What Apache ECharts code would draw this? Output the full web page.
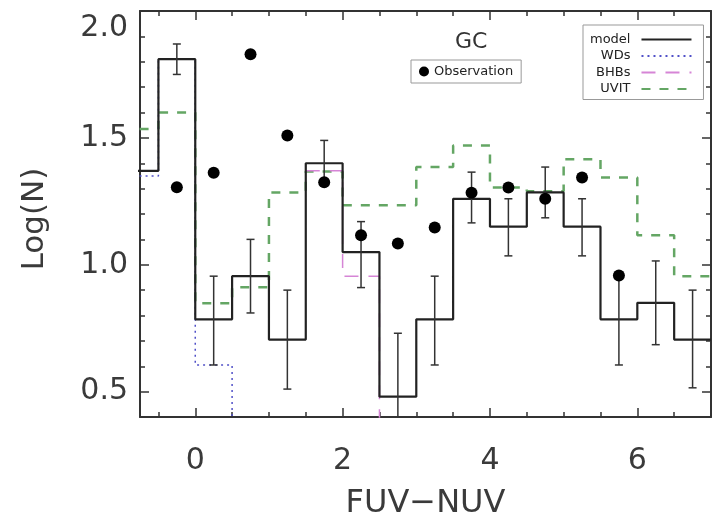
<!DOCTYPE html>
<html>
<head>
    <meta charset="utf-8" />
    <title>GC FUV-NUV</title>
    <style>
        html, body { margin: 0; padding: 0; background: #fff; }
        #main { width: 712px; height: 516px; }
    </style>
</head>
<body>
    <div id="main"></div>
</body>
<script src="https://cdn.jsdelivr.net/npm/echarts@6/dist/echarts.min.js"></script>
<script type="text/javascript">
    // bin centres (width 0.5)
    var centers = [-0.75, -0.25, 0.25, 0.75, 1.25, 1.75, 2.25, 2.75, 3.25, 3.75, 4.25, 4.75, 5.25, 5.75, 6.25, 6.75];
    var model = [1.37, 1.81, 0.785, 0.955, 0.705, 1.40, 1.05, 0.48, 0.785, 1.26, 1.15, 1.285, 1.15, 0.785, 0.85, 0.705];
    var modelLow = [null, 1.75, 0.605, 0.81, 0.51, 1.32, 0.91, 0.30, 0.605, 1.165, 1.035, 1.185, 1.035, 0.605, 0.685, 0.515];
    var modelHigh = [null, 1.87, 0.955, 1.10, 0.90, 1.49, 1.17, 0.73, 0.955, 1.365, 1.26, 1.385, 1.26, 0.96, 1.015, 0.90];
    var wds = [1.35, 1.81, 0.605, 0.0, null, null, null, null, null, null, null, null, null, null, null, null];
    var bhbs = [null, null, null, null, null, 1.37, 0.955, 0.0, null, null, null, null, null, null, null, null];
    var uvit = [1.535, 1.60, 0.848, 0.911, 1.285, 1.367, 1.234, 1.234, 1.385, 1.47, 1.304, 1.29, 1.416, 1.344, 1.116, 0.955];
    var obsX = [-0.25, 0.25, 0.75, 1.25, 1.75, 2.25, 2.75, 3.25, 3.75, 4.25, 4.75, 5.25, 5.75];
    var obsY = [1.305, 1.363, 1.83, 1.509, 1.325, 1.116, 1.084, 1.147, 1.284, 1.304, 1.26, 1.344, 0.958];

    var xMajor = [0, 2, 4, 6];
    var xMinor = [-0.5, 0.5, 1, 1.5, 2.5, 3, 3.5, 4.5, 5, 5.5, 6.5];
    var yMajor = [0.5, 1.0, 1.5, 2.0];
    var yMinor = [0.4, 0.6, 0.7, 0.8, 0.9, 1.1, 1.2, 1.3, 1.4, 1.6, 1.7, 1.8, 1.9];

    var FONT = 'DejaVu Sans';
    var INK = '#333';
    var halfBin = 0.25;

    // histogram outline: left edge of each bin, plus the final right edge
    function steps(vals) {
        var pts = centers.map(function (c, i) {
            return [c - halfBin, vals[i]];
        });
        var last = centers.length - 1;
        pts.push([centers[last] + halfBin, vals[last]]);
        return pts;
    }

    var errData = [];
    centers.forEach(function (c, i) {
        if (modelLow[i] != null) errData.push([c, modelLow[i], modelHigh[i]]);
    });

    var obsData = obsX.map(function (x, i) { return [x, obsY[i]]; });

    // frame axes: every side gets one axis for major ticks and one for minor ticks
    // (all share the same range, so any of them can carry a series)
    function axisBase(pos, len, line, ticks) {
        var horiz = pos === 'bottom' || pos === 'top';
        return {
            type: 'value',
            position: pos,
            min: horiz ? -0.75 : 0.4,
            max: horiz ? 7.0 : 2.0,
            axisLine: { show: line, onZero: false, lineStyle: { color: INK, width: 2 } },
            axisTick: { show: true, inside: true, length: len, customValues: ticks, lineStyle: { color: INK, width: 1.5 } },
            axisLabel: { show: true, customValues: ticks, formatter: function () { return ''; } },
            splitLine: { show: false }
        };
    }

    var xBottom = axisBase('bottom', 9, true, xMajor);
    xBottom.name = 'FUV\u2212NUV';
    xBottom.nameLocation = 'middle';
    xBottom.nameGap = 71;
    xBottom.nameTextStyle = { fontFamily: FONT, fontSize: 32, color: '#3a3a3a' };
    xBottom.axisLabel = { show: true, customValues: xMajor, margin: 29, fontFamily: FONT, fontSize: 30, color: '#3a3a3a' };

    var yLeft = axisBase('left', 9, true, yMajor);
    yLeft.name = 'Log(N)';
    yLeft.nameLocation = 'middle';
    yLeft.nameGap = 90;
    yLeft.nameTextStyle = { fontFamily: FONT, fontSize: 31, color: '#3a3a3a', padding: [0, 10, 0, 0] };
    yLeft.axisLabel = {
        show: true, customValues: yMajor, margin: 12, fontFamily: FONT, fontSize: 30, color: '#3a3a3a',
        padding: [2, 0, 0, 0], verticalAlignMaxLabel: 'top',
        formatter: function (v) { return v.toFixed(1); }
    };

    var myChart = echarts.init(document.getElementById('main'));
    var option = {
        animation: false,
        backgroundColor: '#fff',
        title: {
            text: 'GC',
            left: 455,
            top: 31,
            padding: 0,
            textStyle: { fontFamily: FONT, fontSize: 22, fontWeight: 'normal', color: INK }
        },
        legend: [
            {
                data: ['Observation'],
                left: 411,
                top: 60,
                padding: [5, 8],
                itemWidth: 10,
                itemHeight: 10,
                itemGap: 0,
                borderColor: '#999',
                borderWidth: 1,
                selectedMode: false,
                textStyle: { fontFamily: FONT, fontSize: 13, color: '#222' }
            },
            {
                data: ['model', 'WDs', 'BHBs', 'UVIT'],
                orient: 'vertical',
                align: 'right',
                left: 583,
                top: 25,
                padding: [7, 11, 3, 7],
                itemWidth: 50,
                itemHeight: 10,
                itemGap: 1.5,
                borderColor: '#999',
                borderWidth: 1,
                selectedMode: false,
                itemStyle: { opacity: 0, borderWidth: 0 },
                textStyle: { fontFamily: FONT, fontSize: 13, color: '#222', lineHeight: 15, padding: [0, 6, 0, 0] }
            }
        ],
        grid: { left: 140, right: 1, top: 11, bottom: 99, outerBoundsMode: 'none' },
        xAxis: [
            xBottom,
            axisBase('bottom', 5, false, xMinor),
            axisBase('top', 9, true, xMajor),
            axisBase('top', 5, false, xMinor)
        ],
        yAxis: [
            yLeft,
            axisBase('left', 5, false, yMinor),
            axisBase('right', 9, true, yMajor),
            axisBase('right', 5, false, yMinor)
        ],
        series: [
            {
                name: 'UVIT',
                type: 'line',
                step: 'end',
                symbol: 'none',
                xAxisIndex: 1,
                yAxisIndex: 1,
                data: steps(uvit),
                lineStyle: { color: '#64a664', width: 2.5, type: [9, 9] },
                itemStyle: { color: '#64a664' },
                z: 2
            },
            {
                name: 'BHBs',
                type: 'line',
                step: 'end',
                symbol: 'none',
                xAxisIndex: 2,
                yAxisIndex: 2,
                data: steps(bhbs),
                lineStyle: { color: '#d685d6', width: 1.5, type: [14, 10] },
                itemStyle: { color: '#d685d6' },
                z: 3
            },
            {
                name: 'WDs',
                type: 'line',
                step: 'end',
                symbol: 'none',
                xAxisIndex: 3,
                yAxisIndex: 3,
                data: steps(wds),
                lineStyle: { color: '#5050c8', width: 1.5, type: [2, 4] },
                itemStyle: { color: '#5050c8' },
                z: 3
            },
            {
                name: 'model',
                type: 'line',
                step: 'end',
                symbol: 'none',
                data: steps(model),
                lineStyle: { color: '#222', width: 2.2 },
                itemStyle: { color: '#222' },
                z: 4
            },
            {
                name: 'err',
                type: 'custom',
                clip: true,
                data: errData,
                encode: { x: 0, y: [1, 2] },
                renderItem: function (params, api) {
                    var x = api.value(0);
                    var top = api.coord([x, api.value(2)]);
                    var bot = api.coord([x, api.value(1)]);
                    var w = 4;
                    var st = { stroke: '#333', lineWidth: 1.5 };
                    return {
                        type: 'group',
                        children: [
                            { type: 'line', shape: { x1: top[0], y1: top[1], x2: bot[0], y2: bot[1] }, style: st },
                            { type: 'line', shape: { x1: top[0] - w, y1: top[1], x2: top[0] + w, y2: top[1] }, style: st },
                            { type: 'line', shape: { x1: bot[0] - w, y1: bot[1], x2: bot[0] + w, y2: bot[1] }, style: st }
                        ]
                    };
                },
                z: 5
            },
            {
                name: 'Observation',
                type: 'scatter',
                symbol: 'circle',
                symbolSize: 12,
                data: obsData,
                itemStyle: { color: '#000', opacity: 1 },
                z: 6
            }
        ]
    };

    option && myChart.setOption(option);
</script>
</html>
